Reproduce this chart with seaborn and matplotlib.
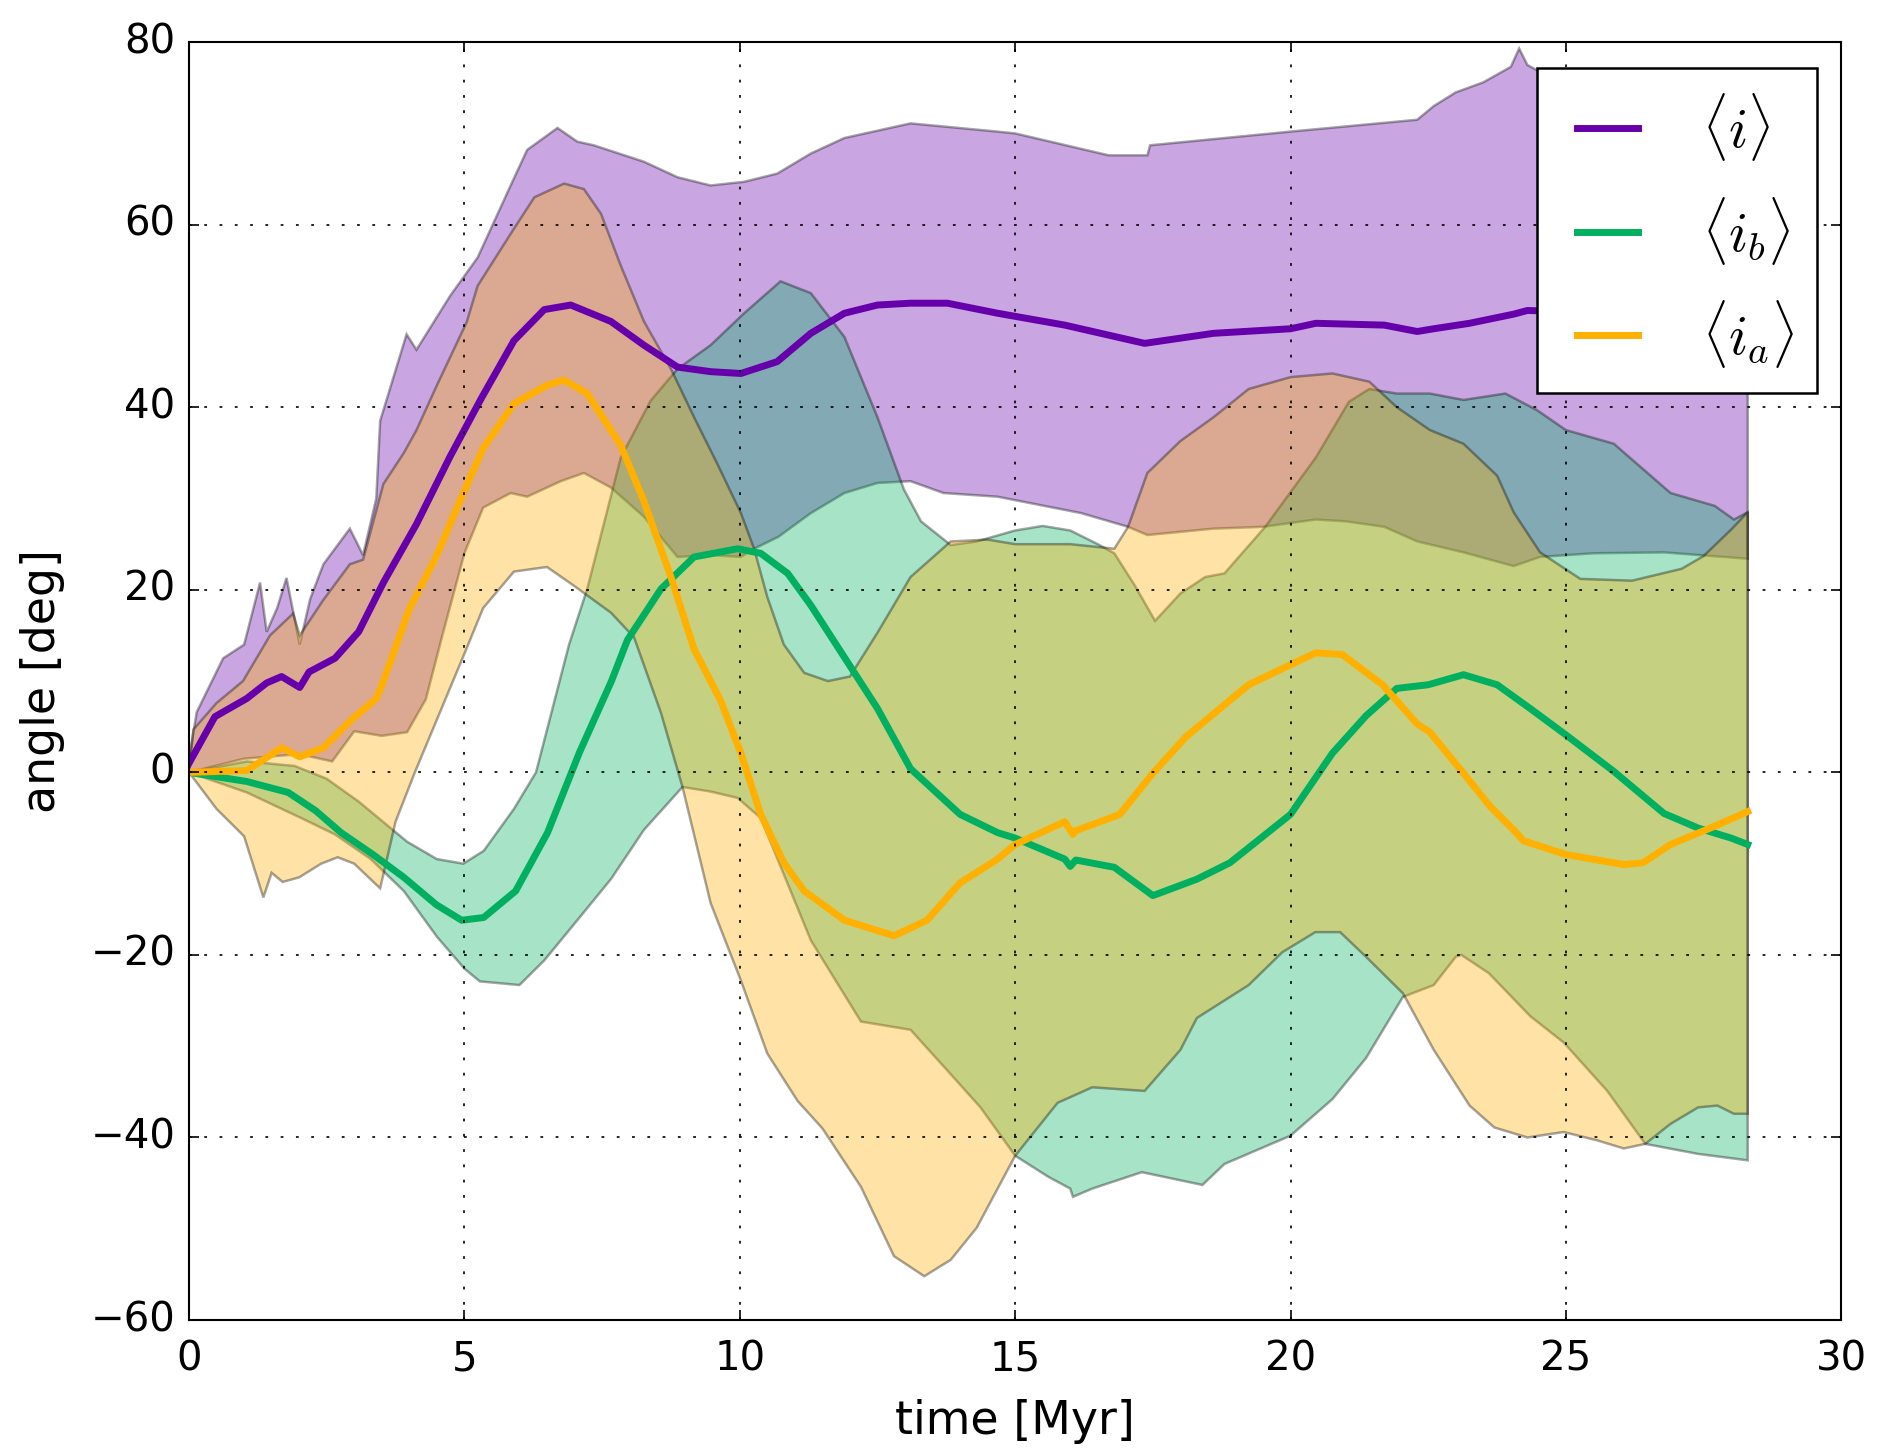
import numpy as np
import matplotlib
matplotlib.use("Agg")
import matplotlib.pyplot as plt
import seaborn as sns

# estilo clasico de matplotlib (como el original)
plt.style.use("classic")
plt.rcParams["font.family"] = ["DejaVu Sans"]
plt.rcParams["mathtext.fontset"] = "cm"
plt.rcParams["lines.scale_dashes"] = False

# colores
c_i = "#6600aa"
c_ib = "#00b060"
c_ia = "#ffb000"

# <i> : media, limite superior, limite inferior
t_i = [0, 0.47, 1.05, 1.41, 1.68, 2.01, 2.18, 2.65, 3.08, 3.53, 4.13, 4.74, 5.3, 5.9, 6.45, 6.93,
       7.66, 8.26, 8.87, 9.47, 10.02, 10.68, 11.29, 11.9, 12.5, 13.1, 13.77, 14.68, 15.9, 17.35,
       18.6, 20, 20.46, 21.7, 22.3, 22.6, 23.25, 24.05, 24.3, 25, 26, 27, 28.3]
i_mean = [1, 6.1, 8.1, 9.8, 10.5, 9.3, 11, 12.5, 15.4, 20.8, 27.2, 34.6, 40.9, 47.3, 50.7, 51.2,
          49.4, 46.8, 44.4, 43.9, 43.7, 45, 48.1, 50.3, 51.2, 51.4, 51.4, 50.3, 49, 47,
          48.1, 48.6, 49.2, 49, 48.3, 48.6, 49.2, 50.2, 50.6, 50.5, 50.5, 50.5, 50.5]

t_i_up = [0, 0.14, 0.62, 1.0, 1.29, 1.41, 1.6, 1.77, 2.01, 2.2, 2.44, 2.92, 3.16, 3.4, 3.47, 3.95,
          4.13, 4.74, 5.24, 5.84, 6.14, 6.69, 7.05, 7.35, 8.26, 8.87, 9.47, 10.08, 10.68, 11.29,
          11.9, 13.1, 14.68, 15, 16.7, 17.4, 17.45, 20, 22.3, 22.6, 23, 23.5, 24.0, 24.15, 24.3,
          24.6, 28.3]
i_up = [1.5, 6.6, 12.5, 14, 20.8, 15.4, 18, 21.3, 14, 19, 22.8, 26.7, 23.8, 30, 38.5, 48,
        46.3, 52.2, 56.4, 64.3, 68.2, 70.6, 69.1, 68.7, 66.9, 65.2, 64.3, 64.7, 65.6, 67.8,
        69.5, 71.1, 70.2, 70, 67.6, 67.6, 68.7, 70.2, 71.5, 73, 74.5, 75.6, 77.3, 79.3, 77.5,
        76.5, 76.5]

t_i_lo = [0, 1, 2, 2.6, 3.0, 3.5, 3.96, 4.3, 4.6, 5.0, 5.34, 5.84, 6.14, 6.75, 7.17, 7.66, 8.26,
          8.87, 9.47, 10.02, 10.26, 10.7, 11.29, 11.9, 12.5, 13.1, 13.7, 14.68, 16.2, 17.05,
          17.4, 18.6, 19.5, 20.46, 21, 21.7, 22.3, 23.14, 24.05, 24.53, 25.5, 26.78, 28.3]
i_lo = [0, 1.5, 2, 1.2, 4.5, 4, 4.4, 8, 15, 24, 29, 30.6, 30.2, 31.9, 32.8, 31.2, 28,
        23.6, 23.8, 23.6, 24.5, 25.8, 28.4, 30.6, 31.7, 31.9, 30.6, 30.2, 28.4, 26.9,
        26, 26.7, 26.9, 27.7, 27.5, 26.9, 25.3, 24.1, 22.6, 23.6, 24, 24.1, 23.4]

# <i_b>
t_ib = [0, 1.05, 1.8, 2.3, 2.76, 3.34, 3.9, 4.49, 4.95, 5.35, 5.93, 6.51, 7.09, 7.67, 7.96, 8.57,
        9.17, 9.96, 10.38, 10.87, 11.29, 11.9, 12.5, 13.1, 14.0, 14.68, 15.0, 15.9, 16.0, 16.1,
        16.8, 17.5, 18.3, 18.9, 20, 20.76, 21.37, 21.93, 22.5, 23.14, 23.75, 24.35, 25, 25.87,
        26.78, 27.4, 28, 28.3]
ib_mean = [0, -1, -2.2, -4.2, -6.6, -9, -11.5, -14.5, -16.2, -15.9, -13, -6.6, 2.2, 10, 14.5, 20.1,
           23.6, 24.5, 24, 21.8, 18.3, 12.6, 7, 0.4, -4.6, -6.6, -7.2, -9.5, -10.3, -9.6,
           -10.4, -13.5, -11.7, -9.9, -4.6, 2.1, 6.2, 9.2, 9.6, 10.7, 9.6, 7, 4.1, 0.1,
           -4.5, -6.1, -7.2, -7.9]

t_ib_up = [0, 1.05, 1.92, 2.5, 3.08, 3.56, 3.96, 4.5, 4.98, 5.35, 5.9, 6.3, 6.6, 6.9, 7.23, 7.84,
           8.38, 8.87, 9.47, 10.08, 10.74, 11.29, 11.9, 12.5, 12.98, 13.29, 13.83, 14.3, 15,
           15.5, 16, 16.5, 16.8, 17.17, 17.54, 18, 18.45, 18.8, 19.54, 20.46, 21.06, 21.43,
           21.93, 22.53, 23.14, 23.9, 24.47, 25, 25.87, 26.9, 27.7, 28.05, 28.3]
ib_up = [0, 1.2, 0.7, -0.7, -3.2, -5.6, -7.6, -9.5, -10, -8.6, -4, 0, 7, 14, 20.1, 34.5,
         40.7, 44.2, 46.8, 50.3, 53.8, 52.5, 47.7, 38.9, 31, 27.5, 24.9, 25.3, 26.5,
         27, 26.5, 25, 24, 20.5, 16.6, 19.6, 21.4, 21.8, 26.9, 34.5, 40.6, 42,
         41.5, 41.5, 40.8, 41.5, 39.7, 37.5, 36, 30.6, 29.2, 27.7, 28.5]

t_ib_lo = [0, 1.05, 2.07, 2.65, 3.3, 3.9, 4.5, 5.0, 5.28, 6.0, 6.45, 7.05, 7.66, 8.26, 8.96, 9.47,
           9.96, 10.38, 11.29, 12.2, 13.1, 13.7, 14.37, 15, 15.6, 16, 16.05, 16.4, 17.3, 18.4,
           18.8, 20, 20.76, 21.37, 22.04, 22.6, 23.0, 23.1, 23.6, 24.35, 24.96, 25.75, 26.44,
           27.4, 28.3]
ib_lo = [0, -2.2, -5.1, -6.8, -9.5, -13, -18, -21.5, -22.9, -23.3, -20.6, -16.2, -11.7, -6.3, -1.6, -2.1,
         -2.8, -5, -18.4, -27.3, -28.2, -32.2, -36.7, -42, -44.3, -45.6, -46.5, -45.6, -43.8, -45.2,
         -42.9, -39.8, -35.8, -31.3, -24.6, -23.3, -20.2, -20, -22, -26.7, -29.6, -34.9, -40.7,
         -41.8, -42.5]

# <i_a>
t_ia = [0, 1.05, 1.68, 2.01, 2.44, 2.92, 3.4, 3.53, 4.0, 4.5, 4.98, 5.34, 5.9, 6.5, 6.8, 7.23,
        7.84, 8.26, 8.75, 9.17, 9.65, 10.02, 10.38, 10.8, 11.17, 11.9, 12.8, 13.4, 14.0, 14.68,
        15, 15.9, 16.05, 16.1, 16.9, 17.5, 18.1, 18.9, 19.24, 20, 20.46, 20.94, 21.67, 22.3,
        22.53, 23.14, 23.62, 24.05, 24.23, 25, 26.05, 26.4, 26.9, 27.7, 28.3]
ia_mean = [0, 0.2, 2.7, 1.7, 2.7, 5.6, 8.1, 10, 17.9, 23.8, 30.6, 35.5, 40.4, 42.4, 43, 41.5,
           35.8, 29.7, 21.4, 13.5, 7.9, 2.1, -4.6, -9.9, -13, -16.2, -17.9, -16.2, -12.1, -9.5,
           -7.9, -5.4, -6.8, -6.4, -4.6, -0.1, 3.9, 7.9, 9.6, 11.8, 13.1, 12.9, 9.6, 5.3,
           4.4, -0.1, -3.7, -6.3, -7.5, -9, -10.1, -9.9, -7.9, -5.9, -4.3]

t_ia_up = [0, 0.08, 0.5, 0.98, 1.47, 1.89, 2.01, 2.44, 2.92, 3.16, 3.53, 3.9, 4.13, 4.5, 5.04,
           5.24, 5.84, 6.27, 6.81, 7.17, 7.48, 7.84, 8.26, 8.75, 9.17, 9.6, 10.02, 10.26, 10.5,
           10.8, 11.17, 11.6, 12, 12.5, 13.1, 13.83, 14.5, 15, 16, 16.8, 17.05, 17.4, 18.0, 18.6,
           19.24, 20, 20.76, 21.43, 21.93, 22.53, 23.14, 23.75, 24.05, 24.53, 25.26, 26.2, 27.1,
           27.5, 28, 28.3]
ia_up = [0, 4.7, 7.6, 10, 15, 17.4, 15, 18.9, 22.8, 23.3, 31.6, 35, 37.5, 42.4, 49.3,
         53.3, 59, 63, 64.5, 63.9, 61.2, 55.5, 49.4, 44.2, 38.9, 33.7, 28.4, 24.5, 19.2,
         14, 10.9, 10, 10.5, 15.3, 21.4, 25.3, 25.5, 25, 25, 24.5, 26.9, 32.8, 36.3, 38.9,
         42, 43.3, 43.7, 42.8, 40, 37.5, 36, 32.5, 28.5, 24.1, 21.2, 21, 22.3,
         23.7, 26.6, 28.5]

t_ia_lo = [0, 0.5, 1.0, 1.35, 1.5, 1.7, 2.0, 2.4, 2.7, 3.0, 3.47, 3.75, 4.1, 5.0, 5.34, 5.9, 6.5,
           7.0, 7.66, 8.08, 8.57, 8.96, 9.47, 10.02, 10.5, 11.05, 11.5, 12.2, 12.8, 13.35, 13.83,
           14.3, 15, 15.77, 16.4, 17.35, 18.0, 18.3, 19.24, 19.85, 20.45, 20.9, 21.37, 22.04,
           22.6, 23.25, 23.7, 24.3, 24.96, 25.56, 26.05, 26.44, 26.9, 27.4, 27.75, 28.05, 28.3]
ia_lo = [0, -4, -7, -13.7, -11, -12, -11.5, -10, -9.3, -10, -12.7, -5.4, 0, 13, 18, 22, 22.5,
         20.4, 17.5, 14.8, 6.5, -1.6, -14.3, -22.8, -30.8, -36, -39, -45.4, -53, -55.2, -53.4,
         -49.9, -42, -36.2, -34.5, -34.9, -30.4, -26.9, -23.3, -19.7, -17.5, -17.5, -20.2, -24.2,
         -30.4, -36.5, -38.9, -40, -39.4, -40.3, -41.2, -40.7, -38.5, -36.7, -36.5, -37.4, -37.4]

fig = plt.figure(figsize=(18.77, 14.53), dpi=100, facecolor="white")
ax = fig.add_axes([0.1007, 0.0915, 0.8803, 0.8795])
ax.set_facecolor("white")

# bandas (poligono arriba -> abajo)
bandas = [
    (t_i_up, i_up, t_i_lo, i_lo, c_i),
    (t_ib_up, ib_up, t_ib_lo, ib_lo, c_ib),
    (t_ia_up, ia_up, t_ia_lo, ia_lo, c_ia),
]
for tu, vu, tl, vl, col in bandas:
    xs = np.concatenate([tu, tl[::-1]])
    ys = np.concatenate([vu, vl[::-1]])
    ax.fill(xs, ys, facecolor=col, alpha=0.35, edgecolor="k", linewidth=1.8)

# medias con seaborn
sns.lineplot(x=t_i, y=i_mean, color=c_i, linewidth=5, ax=ax, sort=False, estimator=None,
             label=r"$\langle i\rangle$")
sns.lineplot(x=t_ib, y=ib_mean, color=c_ib, linewidth=5, ax=ax, sort=False, estimator=None,
             label=r"$\langle i_b\rangle$")
sns.lineplot(x=t_ia, y=ia_mean, color=c_ia, linewidth=5, ax=ax, sort=False, estimator=None,
             label=r"$\langle i_a\rangle$")

ax.set_xlim(0, 30)
ax.set_ylim(-60, 80)
ax.set_xticks(range(0, 31, 5))
ax.set_yticks(range(-60, 81, 20))
ax.grid(True, color="k", linestyle=(0, (2, 9)), linewidth=1.2)
ax.tick_params(labelsize=29, length=7, width=1.2, direction="in")
ax.tick_params(axis="x", pad=14)
ax.tick_params(axis="y", pad=10)
for s in ax.spines.values():
    s.set_linewidth(1.5)
ax.set_xlabel("time [Myr]", fontsize=33, labelpad=14)
ax.set_ylabel("angle [deg]", fontsize=33, labelpad=18)

leg = ax.legend(loc="upper right", bbox_to_anchor=(0.9855, 0.9797), borderaxespad=0,
                fontsize=40, handlelength=1.7, labelspacing=0.56, borderpad=0.42,
                handletextpad=0.85, fancybox=False)
leg.get_frame().set_edgecolor("k")
leg.get_frame().set_linewidth(1.8)

fig.savefig("out.png", dpi=100, facecolor="white")
